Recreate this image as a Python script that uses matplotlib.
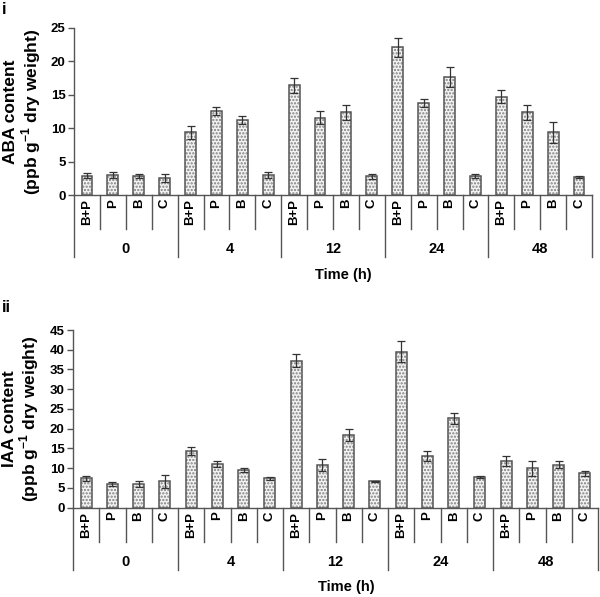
import matplotlib
matplotlib.use("Agg")
import matplotlib.pyplot as plt
import numpy as np

plt.rcParams['font.family'] = ['Liberation Sans', 'DejaVu Sans']
plt.rcParams['font.weight'] = 'bold'
plt.rcParams['hatch.linewidth'] = 1.1
plt.rcParams['mathtext.fontset'] = 'custom'
plt.rcParams['mathtext.bf'] = 'Liberation Sans:bold'
plt.rcParams['mathtext.rm'] = 'Liberation Sans:bold'

treatments = ["B+P", "P", "B", "C"]
times = ["0", "4", "12", "24", "48"]

aba_mean = [2.9, 3.0, 2.9, 2.5,
            9.4, 12.6, 11.3, 3.0,
            16.4, 11.6, 12.4, 2.8,
            22.1, 13.8, 17.6, 2.8,
            14.7, 12.4, 9.4, 2.7]
aba_err = [0.4, 0.4, 0.3, 0.6,
           1.0, 0.6, 0.6, 0.4,
           1.1, 1.0, 1.1, 0.4,
           1.4, 0.6, 1.5, 0.3,
           1.0, 1.1, 1.6, 0.1]

iaa_mean = [7.4, 6.0, 6.0, 6.6,
            14.3, 11.0, 9.5, 7.4,
            37.2, 10.8, 18.3, 6.6,
            39.5, 13.0, 22.6, 7.8,
            11.7, 9.9, 10.8, 8.7]
iaa_err = [0.7, 0.5, 0.8, 1.6,
           1.0, 0.7, 0.5, 0.4,
           1.7, 1.5, 1.5, 0.2,
           2.7, 1.3, 1.4, 0.3,
           1.3, 2.0, 0.9, 0.6]

W, H = 600, 597
fig = plt.figure(figsize=(W / 100, H / 100), dpi=100)

edge = '#555555'


def panel(rect_px, means, errs, ymax, label, panel_label, panel_y):
    left, right, top, bottom = rect_px
    ax = fig.add_axes([left / W, (H - bottom) / H, (right - left) / W, (bottom - top) / H])
    hpx = bottom - top
    n = len(means)
    x = np.arange(n)
    ax.bar(x, means, width=0.42, color='#f4f4f4', edgecolor='#808080', hatch='.....', linewidth=0, zorder=2)
    ax.bar(x, means, width=0.42, fill=False, edgecolor=edge, linewidth=1.1, zorder=3)
    ax.errorbar(x, means, yerr=errs, fmt='none', ecolor='#333333', elinewidth=0.9, capsize=2.6, capthick=0.9, zorder=4)
    ax.set_xlim(-0.5, n - 0.5)
    ax.set_ylim(0, ymax)
    ax.set_yticks(np.arange(0, ymax + 1, 5))
    ax.tick_params(axis='y', direction='out', length=4, width=1, color=edge, labelsize=9.5, pad=2)
    for t in ax.get_yticklabels():
        t.set_fontweight('bold')
    ax.set_xticks([])
    for s in ['top', 'right']:
        ax.spines[s].set_visible(False)
    for s in ['left', 'bottom']:
        ax.spines[s].set_color(edge)
        ax.spines[s].set_linewidth(1.0)
    tr = ax.get_xaxis_transform()
    sep = -34 / hpx
    grp = -62 / hpx
    for i in range(n):
        ax.text(i, -4 / hpx, treatments[i % 4], transform=tr, rotation=90, ha='center', va='top',
                fontsize=9.5, fontweight='bold')
    for b in range(n + 1):
        if b % 4 == 0:
            ax.plot([b - 0.5, b - 0.5], [0, grp], transform=tr, color=edge, lw=1.0, clip_on=False)
        else:
            ax.plot([b - 0.5, b - 0.5], [0, sep], transform=tr, color=edge, lw=1.0, clip_on=False)
    for g, tname in enumerate(times):
        ax.text(g * 4 + 1.5, -54 / hpx, tname, transform=tr, ha='center', va='center',
                fontsize=10.5, fontweight='bold')
    ax.text(0.52, -80 / hpx, 'Time (h)', transform=ax.transAxes, ha='center', va='center',
            fontsize=10.5, fontweight='bold')
    ax.set_ylabel(label, fontsize=12.5, fontweight='bold', labelpad=6, linespacing=1.05)
    fig.text(2 / W, 1 - panel_y / H, panel_label, fontsize=12, fontweight='bold', ha='left', va='center')
    return ax


panel((74, 592, 28, 195), aba_mean, aba_err, 25,
      'ABA content\n(ppb g$^{\\mathbf{-1}}$ dry weight)', 'i', 10)
panel((73, 598, 330, 507.5), iaa_mean, iaa_err, 45,
      'IAA content\n(ppb g$^{\\mathbf{-1}}$ dry weight)', 'ii', 307)

fig.savefig('out.png', dpi=100)
